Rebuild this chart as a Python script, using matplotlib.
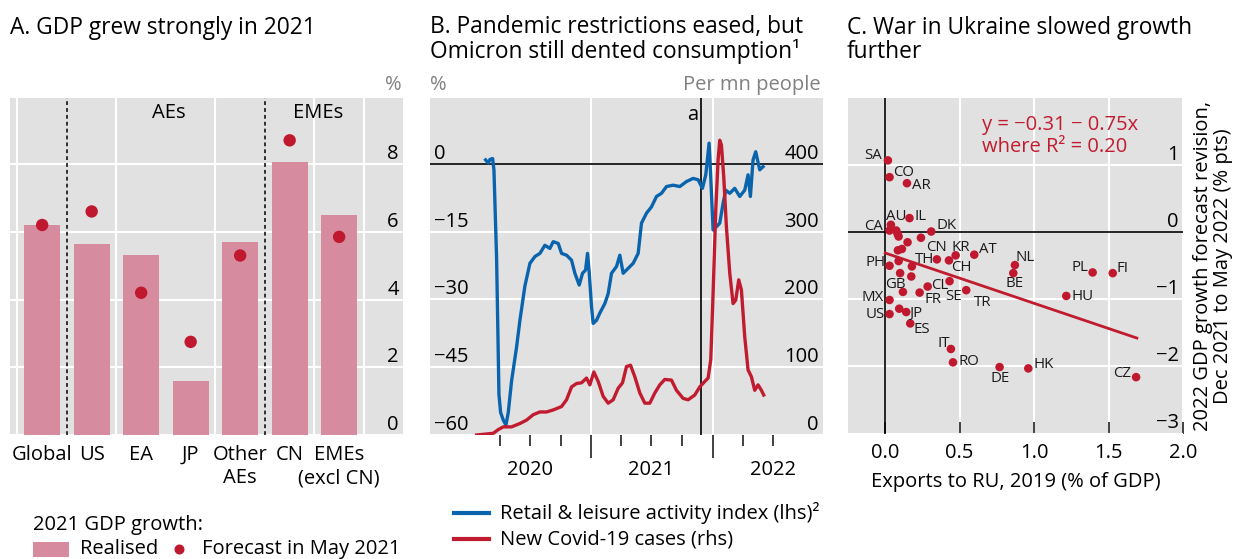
import numpy as np
import pandas as pd
import matplotlib
matplotlib.use('Agg')
import matplotlib.pyplot as plt
import matplotlib.dates as mdates
from matplotlib.ticker import FixedLocator
from matplotlib.patches import Rectangle
from matplotlib.lines import Line2D

plt.rcParams['font.family'] = ['Open Sans', 'DejaVu Sans']
plt.rcParams['font.size'] = 14.5

# ---------------- Data ----------------
# Panel A
a_categories = ['Global', 'US', 'EA', 'JP', 'Other\nAEs', 'CN', 'EMEs\n(excl CN)']
a_realised = [6.2, 5.65, 5.3, 1.6, 5.7, 8.05, 6.5]
a_forecast = [6.2, 6.6, 4.2, 2.75, 5.3, 8.7, 5.85]
a_yticks = [0, 2, 4, 6, 8]
a_ylabels = ['0', '2', '4', '6', '8']

# Panel B
blue_dates = ['2020-02-19', '2020-02-27', '2020-03-03', '2020-03-11', '2020-03-15', '2020-03-23',
              '2020-03-30', '2020-04-04', '2020-04-12', '2020-04-20', '2020-04-27', '2020-05-07',
              '2020-05-22', '2020-06-01', '2020-06-16', '2020-07-01', '2020-07-16', '2020-07-31',
              '2020-08-15', '2020-08-30', '2020-09-09', '2020-09-24', '2020-10-04', '2020-10-19',
              '2020-11-03', '2020-11-13', '2020-11-26', '2020-12-06', '2020-12-15', '2020-12-21',
              '2020-12-26', '2021-01-02', '2021-01-07', '2021-01-17', '2021-01-27', '2021-02-11',
              '2021-02-21', '2021-03-03', '2021-03-18', '2021-03-28', '2021-04-07', '2021-04-22',
              '2021-05-07', '2021-05-22', '2021-06-01', '2021-06-16', '2021-07-01', '2021-07-16',
              '2021-07-31', '2021-08-15', '2021-09-04', '2021-09-24', '2021-10-14', '2021-11-03',
              '2021-11-18', '2021-12-01', '2021-12-11', '2021-12-21', '2021-12-25', '2022-01-02',
              '2022-01-12', '2022-01-22', '2022-02-01', '2022-02-09', '2022-02-21', '2022-03-08',
              '2022-03-23', '2022-04-07', '2022-04-17', '2022-04-24', '2022-05-02', '2022-05-10',
              '2022-05-22', '2022-06-01']
blue_values = [0.9, 0.2, 1.0, 1.2, -1.3, -21, -51, -55, -56.7, -57.8, -55, -48,
               -40.5, -34.6, -27, -22, -20.5, -19.8, -18, -18.7, -17.2, -17.6, -19.8, -20.2,
               -21.3, -24.2, -26.8, -24.2, -23.5, -19.8, -24, -31.6, -35.3, -34.6, -33, -30.9,
               -28.7, -24.2, -22.7, -20.2, -24.2, -23.1, -22, -19.8, -13.1, -10.9, -9.5, -7.2,
               -6.5, -5, -4.7, -5, -3.9, -3.2, -3.5, -5.4, -2.4, 4.6, -1.3, -14.6,
               -13.9, -13.1, -8.7, -5.8, -6.5, -5.4, -7.2, -5.8, -2.4, -7.2, 0.9, 2.7,
               -1.3, -0.6]
red_dates = ['2020-01-23', '2020-03-13', '2020-03-28', '2020-04-12', '2020-05-07', '2020-06-01',
             '2020-06-21', '2020-07-11', '2020-07-31', '2020-08-20', '2020-09-09', '2020-10-04',
             '2020-10-19', '2020-11-03', '2020-11-18', '2020-12-03', '2020-12-18', '2020-12-28',
             '2021-01-09', '2021-01-22', '2021-02-06', '2021-02-21', '2021-03-08', '2021-03-23',
             '2021-04-05', '2021-04-17', '2021-04-29', '2021-05-12', '2021-05-27', '2021-06-11',
             '2021-06-26', '2021-07-11', '2021-07-26', '2021-08-10', '2021-08-30', '2021-09-14',
             '2021-10-04', '2021-10-19', '2021-11-08', '2021-11-23', '2021-12-08', '2021-12-18',
             '2021-12-26', '2022-01-02', '2022-01-10', '2022-01-17', '2022-01-22', '2022-01-27',
             '2022-02-03', '2022-02-11', '2022-02-21', '2022-03-03', '2022-03-11', '2022-03-20',
             '2022-03-28', '2022-04-07', '2022-04-17', '2022-04-27', '2022-05-07', '2022-05-17',
             '2022-05-27', '2022-06-03']
red_values = [0, 2.5, 8, 12, 12, 17, 22, 30, 34, 34, 37, 42,
              52, 71, 76, 77, 84, 74, 93, 79, 57, 47, 52, 69,
              77, 101, 103, 86, 62, 47, 47, 62, 74, 82, 81, 66,
              54, 52, 59, 71, 79, 84, 111, 209, 332, 406, 435, 428,
              381, 307, 239, 194, 199, 229, 214, 145, 96, 86, 66, 74,
              66, 59]
b_left_ticks = [-60, -45, -30, -15, 0]
b_left_labels = ['\u221260', '\u221245', '\u221230', '\u221215', '0']
b_right_ticks = [0, 100, 200, 300, 400]
b_right_labels = ['0', '100', '200', '300', '400']
b_years = ['2020', '2021', '2022']
omicron_date = '2021-11-26'

# Panel C
c_codes = ['SA', 'CO', 'AR', 'IL', 'AU', 'CA', 'DK', '', '', '', '', '', '', '',
           'CN', 'CH', 'KR', 'AT', 'TH', '', 'PH', '', '', 'NL', 'BE', 'PL', 'FI',
           'SE', 'CL', 'TR', 'FR', 'GB', 'HU', 'MX', '', 'JP', 'US', 'ES', 'IT',
           'RO', 'DE', 'HK', 'CZ']
c_exports = [0.018, 0.029, 0.146, 0.163, 0.038, 0.029, 0.309, 0.074, 0.083, 0.09, 0.24, 0.15, 0.112, 0.085,
             0.347, 0.428, 0.473, 0.598, 0.179, 0.09, 0.029, 0.10, 0.175, 0.871, 0.86, 1.393, 1.528,
             0.432, 0.285, 0.544, 0.231, 0.119, 1.216, 0.029, 0.094, 0.141, 0.029, 0.168, 0.441,
             0.455, 0.768, 0.961, 1.685]
c_revision = [1.07, 0.82, 0.73, 0.21, 0.11, 0.025, 0.01, 0.025, -0.024, -0.064, -0.083, -0.15, -0.25, -0.27,
              -0.405, -0.42, -0.345, -0.335, -0.51, -0.43, -0.50, -0.61, -0.66, -0.49, -0.61, -0.60, -0.61,
              -0.73, -0.81, -0.864, -0.90, -0.89, -0.95, -1.01, -1.14, -1.19, -1.22, -1.36, -1.74,
              -1.94, -2.01, -2.03, -2.16]
reg_intercept = -0.31
reg_slope = -0.75
reg_x_range = [0.0, 1.69]
c_xticks = [0.0, 0.5, 1.0, 1.5, 2.0]
c_xlabels = ['0.0', '0.5', '1.0', '1.5', '2.0']
c_yticks = [-3, -2, -1, 0, 1]
c_ylabels = ['\u22123', '\u22122', '\u22121', '0', '1']

# ---------------- Style / layout ----------------
W, H = 1246, 559
BG = '#e1e1e1'
PINK = '#d68b9f'
DOTRED = '#c0182e'
BLUE = '#0a64ad'
LINERED = '#c11b2f'
GREYTXT = '#808080'
TITLE_FS = 16.4

# label offsets (pixels: dx right, dy up) for panel C
c_label_off = {
    'SA': (-15, 5), 'CO': (14, 5), 'AR': (14, -2), 'IL': (11, 2), 'AU': (5, 8), 'CA': (-16, 4),
    'DK': (15, 6), 'CN': (0, 12), 'KR': (5, 8), 'AT': (14, 5), 'TH': (13, 7), 'CH': (12, -7),
    'PH': (-14, 3), 'GB': (-8, 7), 'CL': (12, 1), 'SE': (4, -15), 'FR': (13, -7), 'TR': (16, -12),
    'MX': (-17, 2), 'JP': (9, -1), 'US': (-14, 0), 'ES': (12, -6), 'IT': (-7, 5), 'NL': (10, 8),
    'BE': (1, -10), 'PL': (-13, 5), 'FI': (10, 5), 'HU': (16, -1), 'RO': (16, 1), 'DE': (1, -11),
    'HK': (15, 4), 'CZ': (-14, 4),
}


def fx(px):
    return px / W


def fy(py):
    return 1 - py / H


fig = plt.figure(figsize=(W / 100, H / 100), dpi=100)

# ================= Panel A =================
axA = fig.add_axes([fx(10), fy(435), (403 - 10) / W, (435 - 98) / H])
axA.set_facecolor(BG)
for s in axA.spines.values():
    s.set_visible(False)
xa = np.arange(len(a_categories))
axA.bar(xa, a_realised, width=0.73, color=PINK, zorder=2)
axA.scatter(xa, a_forecast, s=80, color=DOTRED, edgecolors='none', zorder=3)
axA.set_xlim(-0.65, 7.29)
axA.set_ylim(0, 9.95)
first_lines = [c.split('\n')[0] for c in a_categories]
axA.set_xticks(xa, first_lines)
for i, c in enumerate(a_categories):
    parts = c.split('\n')
    if len(parts) > 1:
        axA.text(xa[i], -0.1276, parts[1], transform=axA.get_xaxis_transform(),
                 ha='center', va='center')
axA.set_xticks([-0.5, 1.5, 3.5, 5.5, 6.5], minor=True)
axA.tick_params(axis='x', which='both', length=0, pad=7)
axA.grid(axis='x', which='minor', color='white', lw=1.5)
axA.yaxis.tick_right()
axA.set_yticks(a_yticks, labels=a_ylabels, ha='right', va='bottom')
axA.tick_params(axis='y', length=0, pad=-3)
axA.grid(axis='y', color='white', lw=1.5)
axA.set_axisbelow(True)
for xv in (0.5, 4.5):
    axA.axvline(xv, color='black', lw=1.1, ls=(0, (2.5, 2.0)), zorder=1.5)
axA.text(2.55, 9.5, 'AEs', ha='center', va='center')
axA.text(5.58, 9.5, 'EMEs', ha='center', va='center')
axA.text(0.975, 1.039, '%', transform=axA.transAxes, ha='center', va='center', color=GREYTXT)

# ================= Panel B =================
axB = fig.add_axes([fx(430), fy(435), (823 - 430) / W, (435 - 98) / H])
axB.set_facecolor(BG)
for s in axB.spines.values():
    s.set_visible(False)
bd = pd.to_datetime(blue_dates)
rd = pd.to_datetime(red_dates)
axB.plot(bd, blue_values, color=BLUE, lw=2.4, solid_joinstyle='round', zorder=3)
left_top = 14.6
axB.set_ylim(-60, left_top)
axB.set_xlim(pd.Timestamp('2019-09-05'), pd.Timestamp('2022-11-28'))
axB.set_yticks(b_left_ticks, labels=b_left_labels, ha='left', va='bottom')
axB.tick_params(axis='y', length=0, pad=-3)
axB.grid(axis='y', color='white', lw=1.5)
major = mdates.date2num(pd.to_datetime(['2021-01-01', '2022-01-01']))
minor = mdates.date2num(pd.to_datetime(['2020-04-01', '2020-07-01', '2020-10-01',
                                        '2021-04-01', '2021-07-01', '2021-10-01',
                                        '2022-04-01', '2022-07-01']))
axB.xaxis.set_major_locator(FixedLocator(major))
axB.xaxis.set_minor_locator(FixedLocator(minor))
axB.tick_params(axis='x', which='major', length=16.5, width=1.3, color='#333333', labelbottom=False)
axB.tick_params(axis='x', which='minor', length=8, width=1.3, color='#333333', labelbottom=False)
axB.grid(axis='x', which='major', color='white', lw=1.5)
axB.set_axisbelow(True)
axB.axhline(0, color='black', lw=1.2, zorder=2)
axB.axvline(pd.Timestamp(omicron_date), color='black', lw=1.2, zorder=2)
axB.annotate('a', xy=(pd.Timestamp(omicron_date), 0.95), xycoords=('data', 'axes fraction'),
             xytext=(-2, 0), textcoords='offset points', ha='right', va='center')
for yr in b_years:
    axB.text(pd.Timestamp(yr + '-07-01'), -0.105, yr, transform=axB.get_xaxis_transform(),
             ha='center', va='center')
axB.text(0.0, 1.039, '%', transform=axB.transAxes, ha='left', va='center', color=GREYTXT)
axB.text(0.993, 1.039, 'Per mn people', transform=axB.transAxes, ha='right', va='center', color=GREYTXT)

axB2 = axB.twinx()
for s in axB2.spines.values():
    s.set_visible(False)
axB2.plot(rd, red_values, color=LINERED, lw=2.4, solid_joinstyle='round', zorder=3)
axB2.set_ylim(0, (left_top + 60) * 400 / 60)
axB2.set_yticks(b_right_ticks, labels=b_right_labels, ha='right', va='bottom')
axB2.tick_params(axis='y', length=0, pad=-3)
axB2.set_xlim(axB.get_xlim())

# ================= Panel C =================
axC = fig.add_axes([fx(848), fy(433.5), (1183 - 848) / W, (433.5 - 98) / H])
axC.set_facecolor(BG)
for s in axC.spines.values():
    s.set_visible(False)
axC.set_xlim(-0.25, 2.0)
axC.set_ylim(-3, 2)
axC.set_xticks(c_xticks, labels=c_xlabels)
axC.tick_params(axis='x', direction='in', length=8.5, width=1.3, color='#333333', pad=7)
axC.yaxis.tick_right()
axC.set_yticks(c_yticks, labels=c_ylabels, ha='right', va='bottom')
axC.tick_params(axis='y', length=0, pad=-3)
axC.grid(color='white', lw=1.5)
axC.set_axisbelow(True)
axC.axhline(0, color='black', lw=1.2, zorder=1.5)
axC.axvline(0, color='black', lw=1.2, zorder=1.5)
axC.scatter(c_exports, c_revision, s=38, color=DOTRED, edgecolors='none', zorder=3)
rx = np.array(reg_x_range)
axC.plot(rx, reg_intercept + reg_slope * rx, color=LINERED, lw=2.0, zorder=2.5)
for code, xv, yv in zip(c_codes, c_exports, c_revision):
    if code:
        dx, dy = c_label_off[code]
        axC.annotate(code, xy=(xv, yv), xytext=(dx * 0.72, dy * 0.72), textcoords='offset points',
                     ha='center', va='center', fontsize=10.8, color='#1a1a1a', zorder=4)
axC.text(0.652, 1.43, 'y = \u22120.31 \u2212 0.75x\nwhere R\u00b2 = 0.20', color=LINERED,
         ha='left', va='center', linespacing=1.1)
axC.set_xlabel('Exports to RU, 2019 (% of GDP)', labelpad=6)
axC.yaxis.set_label_position('right')
axC.set_ylabel('2022 GDP growth forecast revision,\nDec 2021 to May 2022 (% pts)', labelpad=7,
               linespacing=1.05)

# ================= Titles =================
fig.text(fx(10), fy(33.5), 'A. GDP grew strongly in 2021', fontsize=TITLE_FS, va='baseline')
fig.text(fx(430), fy(33.5), 'B. Pandemic restrictions eased, but', fontsize=TITLE_FS, va='baseline')
fig.text(fx(430), fy(58.5), 'Omicron still dented consumption\u00b9', fontsize=TITLE_FS, va='baseline')
fig.text(fx(847), fy(33.5), 'C. War in Ukraine slowed growth', fontsize=TITLE_FS, va='baseline')
fig.text(fx(847), fy(58.5), 'further', fontsize=TITLE_FS, va='baseline')

# ================= Legends =================
fig.text(fx(33), fy(525), '2021 GDP growth:', va='center')
fig.add_artist(Rectangle((fx(33), fy(557)), 36 / W, 15 / H, transform=fig.transFigure,
                         facecolor=PINK, edgecolor='none'))
fig.text(fx(80), fy(549), 'Realised', va='center')
fig.add_artist(Line2D([fx(179)], [fy(549)], marker='o', ms=6.2, color=DOTRED, ls='none',
                      transform=fig.transFigure))
fig.text(fx(202), fy(549), 'Forecast in May 2021', va='center')

fig.add_artist(Line2D([fx(454), fx(489)], [fy(513), fy(513)], color=BLUE, lw=3,
                      transform=fig.transFigure))
fig.text(fx(500), fy(513), 'Retail & leisure activity index (lhs)\u00b2', va='center')
fig.add_artist(Line2D([fx(454), fx(489)], [fy(539), fy(539)], color=LINERED, lw=3,
                      transform=fig.transFigure))
fig.text(fx(500), fy(539), 'New Covid-19 cases (rhs)', va='center')

fig.savefig('out.png', dpi=100)
